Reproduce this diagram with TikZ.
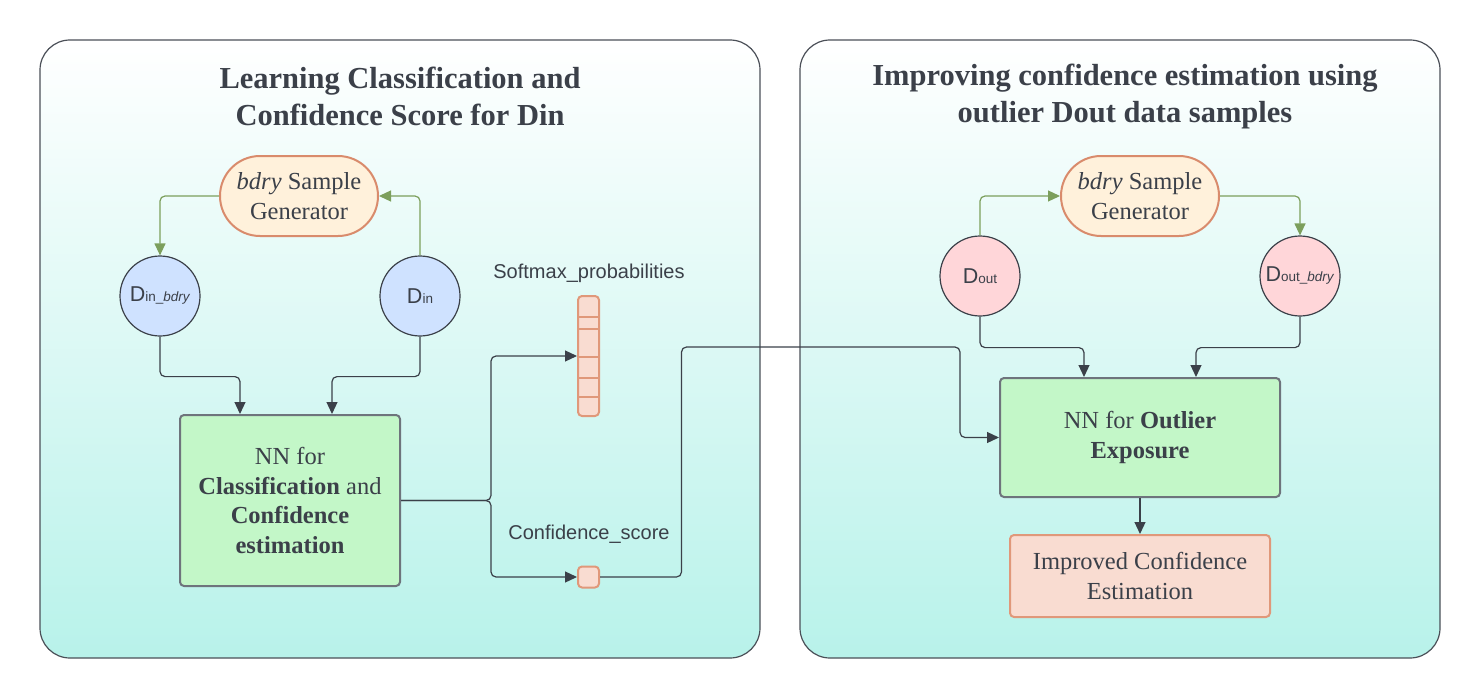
\documentclass[tikz,border=0pt]{standalone}
\usepackage{fontspec}
\setmainfont{Liberation Serif}
\setsansfont{Liberation Sans}
\usetikzlibrary{arrows.meta,calc}
\definecolor{txt}{HTML}{3B4049}
\definecolor{grn}{HTML}{7C9F5C}
\definecolor{genfill}{HTML}{FFF1DB}
\definecolor{orng}{HTML}{D98B6C}
\definecolor{bluef}{HTML}{CFE2FF}
\definecolor{pinkf}{HTML}{FFD6D9}
\definecolor{nnfill}{HTML}{C3F7C8}
\definecolor{nnbord}{HTML}{6E747C}
\definecolor{salf}{HTML}{F9DCD1}
\definecolor{salb}{HTML}{E0987A}
\definecolor{teal}{HTML}{B8F2EA}
\definecolor{panb}{HTML}{4B5058}
\tikzset{
  panel/.style={draw=panb, line width=1.2pt, rounded corners=30pt, top color=white, bottom color=teal},
  ttl/.style={text=txt, font=\fontsize{30.5}{37}\selectfont\bfseries, align=center},
  genbox/.style={draw=orng, fill=genfill, line width=2pt, minimum width=158pt, minimum height=80pt, rounded corners=40pt, text=txt, font=\fontsize{24.5}{29.5}\selectfont, align=center, inner sep=0pt},
  circ/.style={circle, draw=txt, line width=1.2pt, minimum size=80pt, inner sep=0pt, text=txt},
  nnbox/.style={draw=nnbord, fill=nnfill, line width=2pt, rounded corners=4pt, text=txt, font=\fontsize{24.5}{29.5}\selectfont, align=center, inner sep=0pt},
  salbox/.style={draw=salb, fill=salf, line width=2pt, rounded corners=4pt, text=txt, inner sep=0pt},
  lbl/.style={text=txt, font=\sffamily\fontsize{20}{24}\selectfont},
  conn/.style={draw=txt, line width=1.2pt, rounded corners=5pt, -{Triangle[length=12pt,width=11pt]}},
  gconn/.style={draw=grn, line width=1.2pt, rounded corners=5pt, -{Triangle[length=12pt,width=11pt]}},
}
\newcommand{\Dlab}[1]{{\sffamily\fontsize{21.5}{22}\selectfont D\fontsize{13.5}{14}\selectfont #1}}
\begin{document}
\begin{tikzpicture}[x=1pt,y=-1pt]
\useasboundingbox (0,0) rectangle (1480,698);
% panels
\path[panel] (40,40) rectangle (760,658);
\path[panel] (800,40) rectangle (1440,658);
\node[ttl] (t1) at (400,96) {Learning Classification and\\Confidence Score for Din};
\node[ttl] (t2) at (1125,97) {Improving confidence estimation using\\outlier Dout data samples};
% left panel nodes
\node[genbox] (gen1) at (299,196) {\textit{bdry} Sample\\Generator};
\node[circ, fill=bluef] (dinb) at (160,296) {\Dlab{in\_\textit{bdry}}};
\node[circ, fill=bluef] (din) at (420,296) {\Dlab{in}};
\node[nnbox, minimum width=220pt, minimum height=171pt] (nn1) at (290,500.5) {NN for\\\textbf{Classification} and\\\textbf{Confidence}\\\textbf{estimation}};
\node[salbox, minimum width=21pt, minimum height=120pt] (soft) at (588.5,356) {};
\foreach \yy in {317,329,357,378,397} \draw[salb, line width=2pt] (578,\yy) -- (599,\yy);
\node[salbox, minimum width=21pt, minimum height=21pt] (conf) at (588.5,577) {};
\node[lbl] (softl) at (589,273) {Softmax\_probabilities};
\node[lbl] (confl) at (589,534) {Confidence\_score};
% right panel nodes
\node[genbox] (gen2) at (1140,196) {\textit{bdry} Sample\\Generator};
\node[circ, fill=pinkf] (dout) at (980,276) {\Dlab{out}};
\node[circ, fill=pinkf] (doutb) at (1300,276) {\Dlab{out\_\textit{bdry}}};
\node[nnbox, minimum width=280pt, minimum height=119pt] (nn2) at (1140,437.5) {NN for \textbf{Outlier}\\\textbf{Exposure}};
\node[salbox, minimum width=260pt, minimum height=82pt, font=\fontsize{24.5}{29.5}\selectfont, align=center] (imp) at (1140,576) {Improved Confidence\\Estimation};
% connectors left
\draw[gconn] (gen1.west) -| (dinb.north);
\draw[gconn] (din.north) |- (gen1.east);
\draw[conn] (dinb.south) -- ++(0,40) -| ([xshift=-50pt]nn1.north);
\draw[conn] (din.south) -- ++(0,40) -| ([xshift=42pt]nn1.north);
\draw[conn] (nn1.east) -- ++(90,0) |- (soft.west);
\draw[conn] (nn1.east) -- ++(90,0) |- (conf.west);
\draw[conn] (conf.east) -- ++(81.5,0) |- (960,347) |- (nn2.west);
% connectors right
\draw[gconn] (dout.north) |- (gen2.west);
\draw[gconn] (gen2.east) -| (doutb.north);
\draw[conn] (dout.south) -- ++(0,31) -| ([xshift=-56pt]nn2.north);
\draw[conn] (doutb.south) -- ++(0,31) -| ([xshift=56pt]nn2.north);
\draw[conn] (nn2.south) -- (imp.north);
\end{tikzpicture}
\end{document}
